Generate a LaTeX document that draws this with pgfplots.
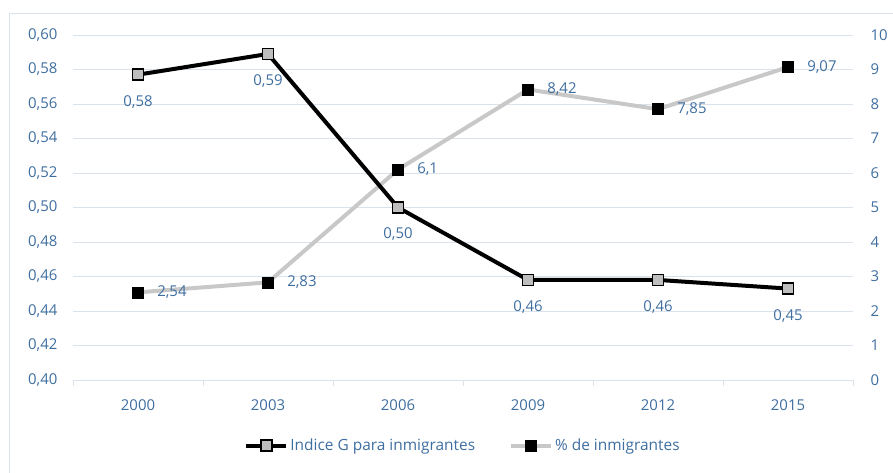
\documentclass[border=0pt]{standalone}
\usepackage{pgfplots}
\pgfplotsset{compat=1.18}
\usepackage{fontspec}
\setmainfont{Open Sans}
\definecolor{txt}{RGB}{62,110,160}
\definecolor{grd}{RGB}{218,227,236}
\definecolor{lgray}{RGB}{200,200,200}
\definecolor{mgray}{RGB}{190,190,190}
\begin{document}
\begin{tikzpicture}[x=1bp,y=1bp]
\useasboundingbox (0,0) rectangle (893,473);
\draw[grd, line width=0.8bp] (9,460) -- (9,-20);
\draw[grd, line width=0.8bp] (9,460) -- (900,460);
% right axis: percentage ticks
\begin{axis}[
  at={(73bp,93bp)}, anchor=south west,
  scale only axis, width=780bp, height=345bp,
  xmin=-0.5, xmax=5.5, ymin=0, ymax=10,
  axis x line=none,
  axis y line*=right,
  y axis line style={draw=none},
  ytick={0,1,...,10},
  major tick length=0pt,
  yticklabel style={font=\fontsize{15}{17}\selectfont, text=txt, anchor=west, xshift=14bp},
  /pgf/number format/assume math mode=true,
]
\end{axis}
\begin{axis}[
  at={(73bp,93bp)}, anchor=south west,
  scale only axis, width=780bp, height=345bp,
  xmin=-0.5, xmax=5.5, ymin=0.40, ymax=0.60,
  axis x line*=bottom, axis y line*=left,
  y axis line style={draw=none},
  x axis line style={draw=grd, line width=0.8bp},
  xtick={0,...,5},
  xticklabels={2000,2003,2006,2009,2012,2015},
  minor xtick={-0.5,0.5,...,5.5},
  minor tick length=6bp,
  major tick length=0pt,
  tick align=outside,
  minor tick style={draw=grd, line width=0.8bp},
  ytick={0.40,0.42,...,0.61},
  ymajorgrids, grid style={draw=grd, line width=0.8bp},
  xticklabel style={font=\fontsize{15}{17}\selectfont, text=txt, yshift=-16bp},
  yticklabel style={font=\fontsize{15}{17}\selectfont, text=txt, anchor=east, xshift=-12bp},
  /pgf/number format/assume math mode=true,
  yticklabel={\pgfmathprintnumber[fixed, fixed zerofill, precision=2, use comma]{\tick}},
]
\end{axis}
\begin{axis}[
  at={(73bp,93bp)}, anchor=south west,
  scale only axis, width=780bp, height=345bp,
  xmin=-0.5, xmax=5.5, ymin=0, ymax=10,
  axis lines=none, clip=false,
  /pgf/number format/assume math mode=true,
]
\addplot[lgray, line width=4bp, mark=square*, mark size=5.5bp,
  mark options={draw=black, fill=black, line width=0.5bp},
  nodes near coords={\pgfmathprintnumber[fixed, precision=2, use comma]{\pgfplotspointmeta}},
  point meta=explicit,
  every node near coord/.append style={font=\fontsize{15}{17}\selectfont, text=txt, anchor=west, inner sep=0pt, xshift=19bp}]
  table[meta index=2] {
  x y m
  0 2.54 2.54
  1 2.83 2.83
  2 6.10 6.1
  3 8.42 8.42
  4 7.85 7.85
  5 9.07 9.07
  };
\end{axis}
\begin{axis}[
  at={(73bp,93bp)}, anchor=south west,
  scale only axis, width=780bp, height=345bp,
  xmin=-0.5, xmax=5.5, ymin=0.40, ymax=0.60,
  axis lines=none, clip=false,
  /pgf/number format/assume math mode=true,
  legend style={at={(0.5,-0.19)}, anchor=center, draw=none, fill=none,
    font=\fontsize{15.5}{17}\selectfont, text=txt, legend columns=2,
    /tikz/every even column/.append style={column sep=32bp}},
  legend cell align=left,
  legend image code/.code={\draw[mark repeat=2, mark phase=2, #1] plot coordinates {(0bp,0bp) (20bp,0bp) (40bp,0bp)};},
]
\addplot[black, line width=4bp, mark=square*, mark size=5.5bp,
  mark options={draw=black, fill=mgray, line width=1.5bp},
  nodes near coords={\pgfmathprintnumber[fixed, fixed zerofill, precision=2, use comma]{\pgfplotspointmeta}},
  point meta=explicit,
  every node near coord/.append style={font=\fontsize{15}{17}\selectfont, text=txt, anchor=center, inner sep=0pt, yshift=-27bp}]
  table[meta index=2] {
  x y m
  0 0.577 0.577
  1 0.589 0.589
  2 0.500 0.500
  3 0.458 0.458
  4 0.458 0.458
  5 0.453 0.453
  };
\addlegendentry{Indice G para inmigrantes}
\addlegendimage{lgray, line width=4bp, mark=square*, mark size=5.5bp, mark options={draw=black, fill=black, line width=0.5bp}}
\addlegendentry{\% de inmigrantes}
\end{axis}
\end{tikzpicture}
\end{document}
